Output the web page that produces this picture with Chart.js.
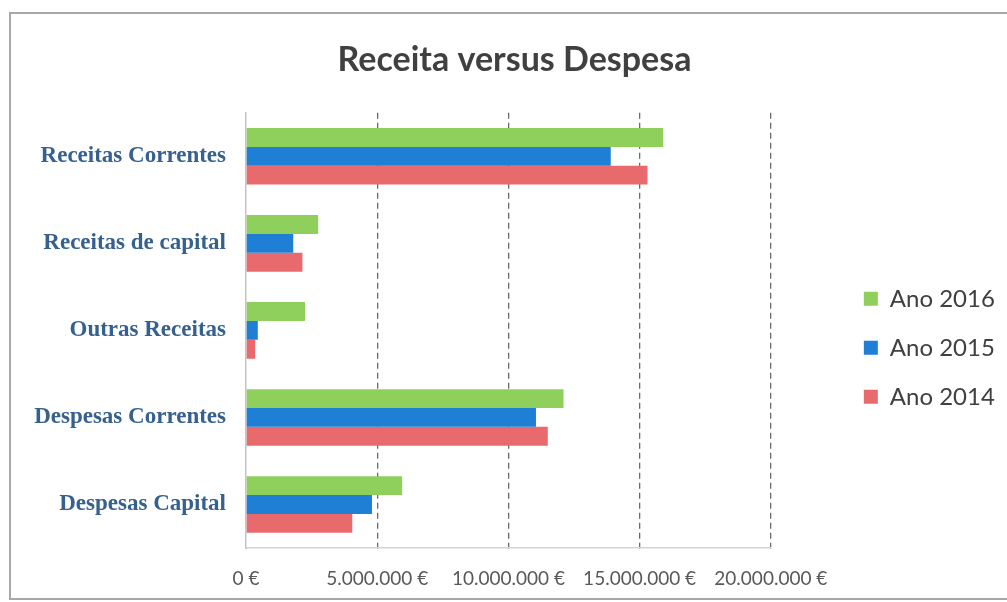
<!DOCTYPE html>
<html>
<head>
<meta charset="utf-8">
<script src="https://cdn.jsdelivr.net/npm/chart.js@4/dist/chart.umd.min.js"></script>
<style>
    body { margin: 0; background: #fff; }
    #wrap { position: relative; width: 1007px; height: 602px; overflow: hidden; }
    #frame { position: absolute; left: 9px; top: 12px; width: 1020px; height: 584px;
             border: 2px solid #a8a8a8; border-right: none; pointer-events: none; }
</style>
</head>
<body>
<div id="wrap">
    <canvas id="chartBudget" width="1007" height="602"></canvas>
    <div id="frame"></div>
</div>
<script>
// categorias e valores (euros)
const categorias = ['Receitas Correntes', 'Receitas de capital', 'Outras Receitas', 'Despesas Correntes', 'Despesas Capital'];
const ano2016 = [15900000, 2750000, 2250000, 12100000, 5950000];
const ano2015 = [13900000, 1800000, 450000, 11050000, 4800000];
const ano2014 = [15300000, 2150000, 350000, 11500000, 4050000];
const tickLabels = ['0 €', '5.000.000 €', '10.000.000 €', '15.000.000 €', '20.000.000 €'];

const ctx = document.getElementById('chartBudget').getContext('2d');
const chartBudget = new Chart(ctx, {
    type: 'bar',
    data: {
        labels: categorias,
        datasets: [{
            label: 'Ano 2016',
            data: ano2016,
            backgroundColor: '#8fcf5c',
        }, {
            label: 'Ano 2015',
            data: ano2015,
            backgroundColor: '#1f7fd4',
        }, {
            label: 'Ano 2014',
            data: ano2014,
            backgroundColor: '#e86a6c',
        }]
    },
    options: {
        indexAxis: 'y',
        responsive: false,
        animation: false,
        categoryPercentage: 0.65,
        barPercentage: 1.0,
        layout: {
            padding: { left: 28, right: 6, top: 0, bottom: 0 }
        },
        plugins: {
            title: {
                display: true,
                text: 'Receita versus Despesa',
                color: '#404040',
                font: { family: 'Lato', size: 34, weight: 'bold' },
                padding: { top: 40, bottom: 32 }
            },
            legend: {
                position: 'right',
                fullSize: false,
                // titre vide : décale les entrées un peu sous le centre
                title: { display: true, text: '', font: { size: 24 }, padding: 3 },
                labels: {
                    boxWidth: 14,
                    boxHeight: 14,
                    padding: 25,
                    color: '#404040',
                    font: { family: 'Lato', size: 24 }
                }
            },
            tooltip: { enabled: false }
        },
        scales: {
            x: {
                min: 0,
                max: 20000000,
                ticks: {
                    stepSize: 5000000,
                    color: '#595959',
                    font: { family: 'Lato', size: 19 },
                    padding: 19,
                    maxRotation: 0,
                    callback: (v, i) => tickLabels[i]
                },
                grid: {
                    color: (c) => c.index === 0 ? 'rgba(0,0,0,0)' : '#6a6a6a',
                    lineWidth: 1.3,
                    tickLength: 0
                },
                border: { display: true, color: '#d4d4d4', width: 1.5, dash: [6, 4] },
                afterFit: (s) => { s.height = 54; }
            },
            y: {
                ticks: {
                    color: '#36608e',
                    font: { family: 'Liberation Serif', size: 23, weight: 'bold' },
                    padding: 20
                },
                grid: { display: false, tickLength: 0 },
                border: { display: true, color: '#c4c4c4', width: 1.5 },
                afterFit: (s) => { s.width = 218; }
            },
            // axe vide à droite pour laisser l'espace avant la légende
            gap: {
                type: 'linear',
                position: 'right',
                display: true,
                ticks: { display: false },
                grid: { display: false },
                border: { display: false },
                afterFit: (s) => { s.width = 68; }
            }
        }
    }
});
</script>
</body>
</html>
